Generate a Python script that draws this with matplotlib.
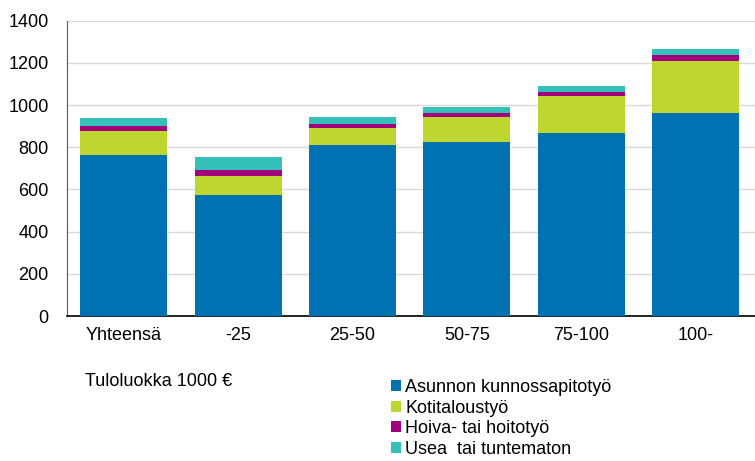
import matplotlib
matplotlib.use("Agg")
import matplotlib.pyplot as plt
import numpy as np

plt.rcParams['font.family'] = ['Liberation Sans', 'DejaVu Sans']

categories = ["Yhteensä", "-25", "25-50", "50-75", "75-100", "100-"]
asunnon = [762, 572, 809, 823, 869, 961]
kotitalous = [113, 90, 82, 122, 174, 249]
hoiva = [24, 32, 18, 16, 17, 26]
usea = [40, 61, 36, 30, 30, 28]
series_names = ["Asunnon kunnossapitotyö", "Kotitaloustyö", "Hoiva- tai hoitotyö", "Usea  tai tuntematon"]
colors = ["#0072B2", "#BED62F", "#A3007E", "#36C0BA"]
yticks = [0, 200, 400, 600, 800, 1000, 1200, 1400]

fs = 13

fig = plt.figure(figsize=(7.55, 4.61), dpi=100)
ax = fig.add_axes([0.0883, 0.3145, 0.9117, 0.6405])
x = np.arange(len(categories))
bottom = np.zeros(len(categories))
handles = []
for vals, col, name in zip([asunnon, kotitalous, hoiva, usea], colors, series_names):
    h = ax.bar(x, vals, width=0.76, bottom=bottom, color=col, label=name, zorder=3)
    handles.append(h)
    bottom += np.array(vals)

ax.set_xlim(-0.5, 5.52)
ax.set_ylim(0, 1400)
ax.set_yticks(yticks)
ax.set_xticks(x)
ax.set_xticklabels(categories)
ax.tick_params(axis='both', length=0, labelsize=fs, colors='#000000')
ax.tick_params(axis='x', pad=8)
ax.tick_params(axis='y', pad=13)
ax.grid(axis='y', color='#D9D9D9', linewidth=1, zorder=0)
for s in ['top', 'right']:
    ax.spines[s].set_visible(False)
ax.spines['left'].set_color('#595959')
ax.spines['bottom'].set_color('#000000')
ax.spines['bottom'].set_linewidth(1.2)

fig.text(85 / 755, 1 - 381 / 461, "Tuloluokka 1000 €", fontsize=fs, va='center', ha='left')

leg = fig.legend(handles=handles, labels=series_names, loc='upper left',
                 bbox_to_anchor=(391 / 755, 1 - 379 / 461), frameon=False,
                 fontsize=fs, handlelength=0.55, handleheight=0.55,
                 handletextpad=0.25, labelspacing=0.2, borderpad=0, borderaxespad=0)

fig.savefig("out.png", dpi=100)
